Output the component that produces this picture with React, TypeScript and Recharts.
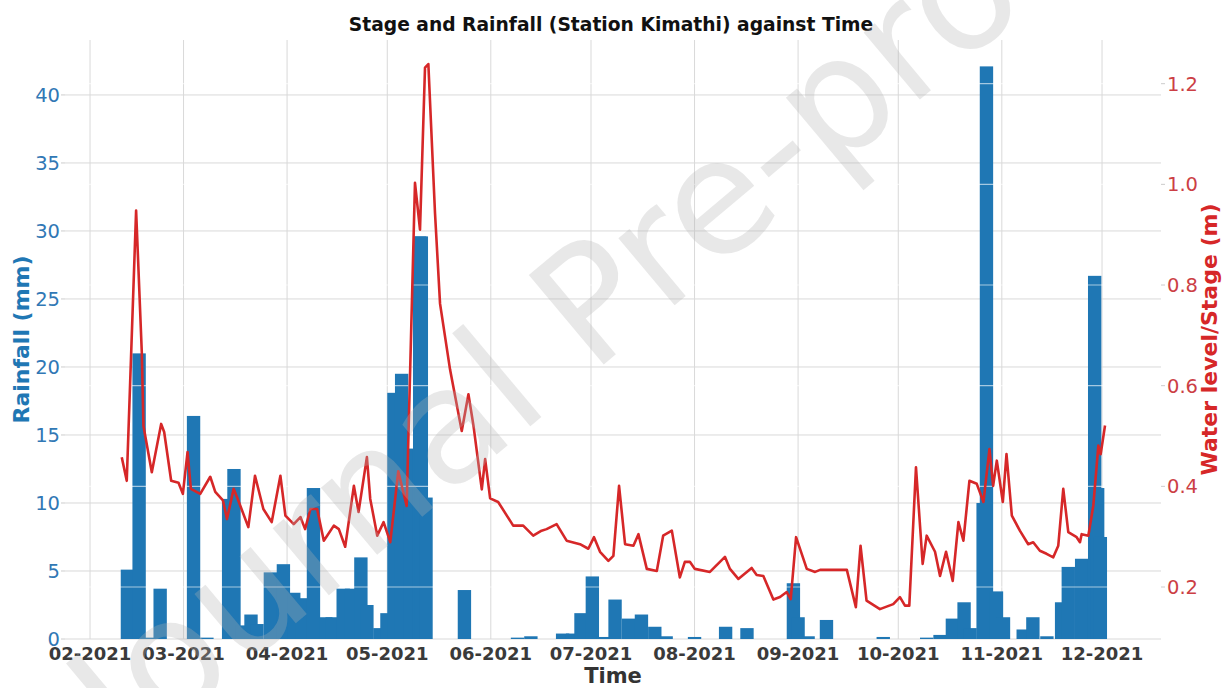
import React from 'react';
import {
  ComposedChart,
  Bar,
  Line,
  XAxis,
  YAxis,
  CartesianGrid,
  ReferenceLine,
} from 'recharts';

// x values are days counted from 1 Feb 2021
const monthTicks = [0, 28, 59, 89, 120, 150, 181, 212, 242, 273, 303];
const monthLabels = [
  '02-2021', '03-2021', '04-2021', '05-2021', '06-2021', '07-2021',
  '08-2021', '09-2021', '10-2021', '11-2021', '12-2021',
];

const rainTicks = [0, 5, 10, 15, 20, 25, 30, 35, 40];
const stageTicks = [0.2, 0.4, 0.6, 0.8, 1.0, 1.2];

// daily rainfall (mm), only days with visible bars
const rainDays = [
  11.2, 14.7, 17.5, 21.0, 31.0, 35.0, 41.5, 43.1, 45.7, 48.2, 50.0, 54.0,
  57.9, 61.0, 63.5, 66.9, 70.6, 72.5, 75.8, 78.3, 81.1, 82.9, 86.8, 88.9,
  91.0, 93.3, 95.8, 98.7, 99.2, 100.6, 112.1, 128.0, 132.0, 141.5, 144.5, 147.0,
  150.4, 153.5, 157.2, 161.2, 165.1, 169.1, 172.5, 181.0, 190.3, 196.7, 210.6, 212.0,
  215.0, 220.5, 237.5, 250.5, 254.5, 258.2, 261.7, 263.5, 267.4, 268.4, 271.4, 273.5,
  279.4, 282.3, 286.5, 290.9, 292.9, 296.9, 300.8, 301.7, 302.5,
];
const rainMm = [
  5.1, 21.0, 0.1, 3.7, 16.4, 0.1, 10.3, 12.5, 1.0, 1.8, 1.1, 4.9,
  5.5, 3.4, 3.0, 11.1, 1.6, 1.6, 3.7, 3.7, 6.0, 2.5, 0.8, 1.9,
  18.1, 19.5, 14.0, 29.6, 29.6, 10.4, 3.6, 0.1, 0.2, 0.4, 0.4, 1.9,
  4.6, 0.15, 2.9, 1.5, 1.8, 0.9, 0.2, 0.15, 0.9, 0.8, 4.1, 1.6,
  0.2, 1.4, 0.15, 0.1, 0.3, 1.5, 2.7, 0.8, 10.0, 42.1, 3.5, 1.6,
  0.7, 1.6, 0.2, 2.7, 5.3, 5.9, 26.7, 11.1, 7.5,
];

// water level / stage (m)
const stageDays = [
  9.5, 11.0, 13.8, 15.5, 16.0, 18.5, 21.3, 22.2, 24.3, 26.5, 27.8, 29.2,
  30.2, 33.0, 36.0, 37.5, 39.8, 41.0, 43.0, 44.4, 47.4, 49.4, 51.9, 54.4,
  57.0, 58.5, 61.0, 63.0, 64.4, 66.0, 68.0, 70.0, 73.0, 74.5, 76.4, 79.0,
  80.4, 82.9, 83.9, 86.0, 87.9, 89.9, 92.3, 94.8, 97.3, 98.8, 100.3, 101.3,
  103.3, 104.8, 107.8, 111.3, 113.3, 114.8, 117.3, 118.3, 119.8, 122.2, 126.7, 129.7,
  132.7, 135.2, 136.7, 139.7, 142.7, 146.7, 149.2, 150.9, 152.7, 155.2, 156.7, 158.4,
  160.2, 162.7, 164.2, 166.7, 169.7, 171.6, 174.2, 176.6, 178.1, 179.6, 181.1, 185.6,
  190.1, 191.6, 194.1, 198.1, 199.6, 201.6, 204.6, 206.6, 208.6, 209.8, 211.4, 214.6,
  217.1, 218.6, 226.6, 229.3, 230.7, 232.5, 236.5, 240.5, 242.5, 244.0, 245.3, 247.3,
  249.3, 250.5, 253.0, 254.5, 256.3, 258.3, 260.0, 261.5, 263.3, 265.5, 267.5, 269.3,
  270.4, 271.5, 273.3, 274.4, 276.0, 278.4, 280.9, 282.4, 284.4, 286.4, 288.4, 289.9,
  291.4, 292.9, 295.4, 296.4, 296.9, 298.9, 300.4, 301.9, 302.6, 303.9,
];
const stageM = [
  0.458, 0.411, 0.948, 0.667, 0.52, 0.428, 0.524, 0.508, 0.411, 0.407, 0.385, 0.468,
  0.395, 0.385, 0.419, 0.389, 0.372, 0.335, 0.395, 0.372, 0.319, 0.421, 0.355, 0.329,
  0.421, 0.342, 0.325, 0.339, 0.315, 0.355, 0.355, 0.292, 0.322, 0.315, 0.28, 0.401,
  0.349, 0.458, 0.375, 0.302, 0.329, 0.289, 0.43, 0.361, 1.003, 0.91, 1.232, 1.239,
  0.942, 0.763, 0.632, 0.51, 0.583, 0.521, 0.394, 0.454, 0.376, 0.369, 0.322, 0.322,
  0.302, 0.312, 0.315, 0.325, 0.292, 0.285, 0.276, 0.299, 0.27, 0.252, 0.262, 0.401,
  0.285, 0.282, 0.305, 0.236, 0.232, 0.302, 0.312, 0.219, 0.25, 0.25, 0.236, 0.23,
  0.26, 0.236, 0.216, 0.238, 0.224, 0.222, 0.175, 0.18, 0.19, 0.176, 0.299, 0.236,
  0.23, 0.234, 0.234, 0.16, 0.282, 0.173, 0.156, 0.166, 0.18, 0.163, 0.163, 0.438,
  0.246, 0.302, 0.27, 0.222, 0.27, 0.212, 0.329, 0.292, 0.411, 0.405, 0.369, 0.474,
  0.401, 0.451, 0.369, 0.464, 0.342, 0.312, 0.285, 0.289, 0.272, 0.266, 0.259, 0.282,
  0.395, 0.309, 0.299, 0.289, 0.305, 0.302, 0.362, 0.481, 0.464, 0.521,
];

const W = 1229;
const H = 688;
const LEFT_AXIS_W = 65;
const RIGHT_AXIS_W = 68;
const X_DOMAIN: [number, number] = [-7.49, 320.66];
const RAIN_DOMAIN: [number, number] = [0, 44.04];
const STAGE_DOMAIN: [number, number] = [0.0967, 1.2868];
const BAR_DAYS = 4;
const PX_PER_DAY = (W - LEFT_AXIS_W - RIGHT_AXIS_W) / (X_DOMAIN[1] - X_DOMAIN[0]);

const BLUE = '#1f77b4';
const RED = '#d62728';

type Row = { day: number; rain?: number; stage?: number };

const rowMap = new Map<number, Row>();
rainDays.forEach((d, i) => {
  const r = rowMap.get(d) ?? { day: d };
  r.rain = rainMm[i];
  rowMap.set(d, r);
});
stageDays.forEach((d, i) => {
  const r = rowMap.get(d) ?? { day: d };
  r.stage = stageM[i];
  rowMap.set(d, r);
});
const data = Array.from(rowMap.values()).sort((a, b) => a.day - b.day);

const monthLabel = (v: number) => {
  const i = monthTicks.indexOf(v);
  return i >= 0 ? monthLabels[i] : '';
};

// bars are a few days wide, like the original plot, centred on their day
const RainBar = (props: any) => {
  const { x, y, width, height, payload } = props;
  if (payload?.rain == null || !isFinite(height) || height <= 0) return null;
  const w = BAR_DAYS * PX_PER_DAY;
  const cx = x + width / 2;
  return <rect x={cx - w / 2} y={y} width={w} height={height} fill={BLUE} />;
};

const SideTitle = (props: any) => {
  const { viewBox, text, color, inset, fromRight } = props;
  const vb = viewBox ?? { x: 0, y: 40, width: LEFT_AXIS_W, height: 599 };
  const cx = fromRight ? vb.x + vb.width - inset : vb.x + inset;
  const cy = vb.y + vb.height / 2;
  return (
    <text
      x={cx}
      y={cy}
      transform={`rotate(-90 ${cx} ${cy})`}
      textAnchor="middle"
      dominantBaseline="central"
      fill={color}
      fontSize={22}
      fontWeight="bold"
    >
      {text}
    </text>
  );
};

const BottomTitle = (props: any) => {
  const vb = props.viewBox ?? { x: 65, y: 639, width: 1096, height: 49 };
  return (
    <text
      x={vb.x + vb.width / 2}
      y={vb.y + vb.height - 5}
      textAnchor="middle"
      fill="#333333"
      fontSize={21}
      fontWeight="bold"
    >
      Time
    </text>
  );
};

export default function App() {
  return (
    <div
      style={{
        position: 'absolute',
        left: 0,
        top: 0,
        width: W,
        height: H,
        background: '#ffffff',
        fontFamily: 'DejaVu Sans, sans-serif',
      }}
    >
      <ComposedChart width={W} height={H} data={data} margin={{ top: 40, right: 0, bottom: 0, left: 0 }}>
        <CartesianGrid yAxisId="left" stroke="#d9d9d9" strokeWidth={1} syncWithTicks />
        <XAxis
          dataKey="day"
          type="number"
          domain={X_DOMAIN}
          allowDataOverflow
          ticks={monthTicks}
          interval={0}
          tickFormatter={monthLabel}
          tickSize={0}
          tickMargin={8}
          axisLine={false}
          tickLine={false}
          height={49}
          tick={{ fill: '#3a3a3a', fontSize: 18, fontWeight: 'bold' }}
          label={<BottomTitle />}
        />
        <YAxis
          yAxisId="left"
          type="number"
          domain={RAIN_DOMAIN}
          allowDataOverflow
          ticks={rainTicks}
          interval={0}
          width={LEFT_AXIS_W}
          tickSize={4}
          tickMargin={1}
          axisLine={false}
          tickLine={{ stroke: '#cccccc' }}
          tick={{ fill: '#3178b5', fontSize: 19.5 }}
          label={<SideTitle text="Rainfall (mm)" color={BLUE} inset={21} />}
        />
        <YAxis
          yAxisId="right"
          orientation="right"
          type="number"
          domain={STAGE_DOMAIN}
          allowDataOverflow
          ticks={stageTicks}
          interval={0}
          tickFormatter={(v: number) => v.toFixed(1)}
          width={RIGHT_AXIS_W}
          tickSize={4}
          tickMargin={2}
          axisLine={false}
          tickLine={{ stroke: '#cccccc' }}
          tick={{ fill: '#cc3f45', fontSize: 19.5 }}
          label={<SideTitle text="Water level/Stage (m)" color={RED} inset={20} fromRight />}
        />
        <Bar yAxisId="left" dataKey="rain" fill={BLUE} shape={RainBar} isAnimationActive={false} />
        {stageTicks.map((t) => (
          <ReferenceLine key={t} yAxisId="right" y={t} stroke="#ffffff" strokeOpacity={0.6} strokeWidth={1.2} />
        ))}
        <Line
          yAxisId="right"
          dataKey="stage"
          type="linear"
          stroke={RED}
          strokeWidth={2.6}
          strokeLinejoin="round"
          dot={false}
          activeDot={false}
          connectNulls
          isAnimationActive={false}
        />
      </ComposedChart>
      <svg
        width={W}
        height={H}
        style={{ position: 'absolute', left: 0, top: 0, pointerEvents: 'none' }}
      >
        <text x={611} y={31} textAnchor="middle" fontSize={18.7} fontWeight="bold" fill="#111111">
          Stage and Rainfall (Station Kimathi) against Time
        </text>
        <text
          transform="translate(129 763) rotate(-40)"
          fontSize={160}
          fill="#b4b4b4"
          fillOpacity={0.3}
        >
          Journal Pre-proof
        </text>
      </svg>
    </div>
  );
}
